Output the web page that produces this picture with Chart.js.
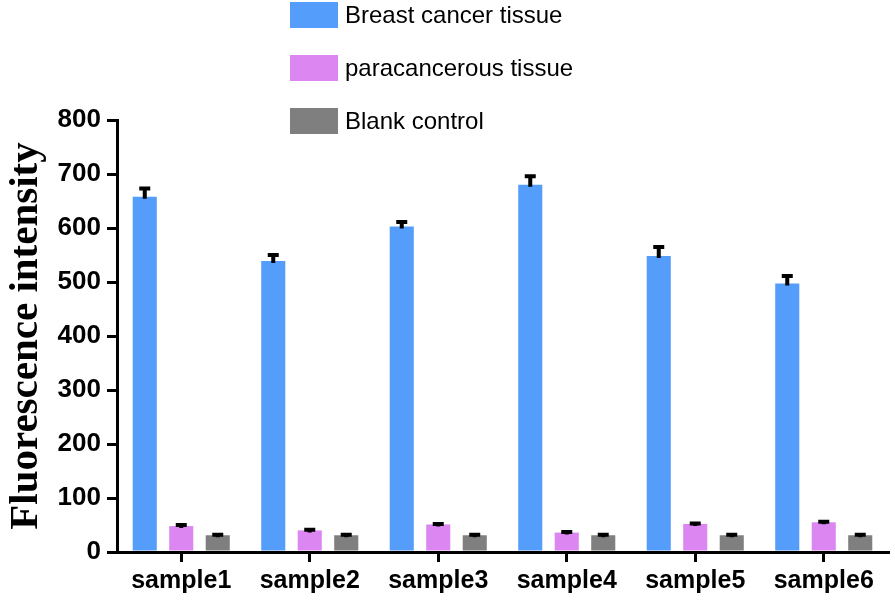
<!DOCTYPE html>
<html>
<head>
<meta charset="utf-8">
<script src="https://cdn.jsdelivr.net/npm/chart.js@4"></script>
<style>
  html,body{margin:0;padding:0;background:#fff;}
  #wrap{position:relative;width:895px;height:600px;}
  #legend{position:absolute;left:290px;top:2px;font-family:"Liberation Sans",Arial,sans-serif;font-size:24px;color:#000;}
  #legend .item{display:flex;align-items:center;height:26px;margin-bottom:27px;}
  #legend .box{width:48px;height:26px;margin-right:7px;}
</style>
</head>
<body>
<div id="wrap">
  <canvas id="c" width="895" height="600"></canvas>
  <div id="legend"></div>
</div>
<script>
const samples = ['sample1','sample2','sample3','sample4','sample5','sample6'];
const cancer = [658, 539, 603, 680, 548, 497];
const cancerErr = [15, 11, 8, 16, 17, 14];
const para = [48, 40, 51, 36, 52, 55];
const paraErr = [2, 1, 1, 1, 1, 1];
const blank = [31, 31, 31, 31, 31, 31];
const blankErr = [1, 1, 1, 1, 1, 1];
const yTicks = [0,100,200,300,400,500,600,700,800];

const colors = ['#559DFA','#DC86F2','#7F7F7F'];

// error bars on top of each bar, upward only
const errorBars = {
  id:'errorBars',
  afterDatasetsDraw(chart){
    const ctx = chart.ctx, y = chart.scales.y;
    ctx.save();
    ctx.strokeStyle = '#000';
    ctx.lineWidth = 4;
    chart.data.datasets.forEach((ds,i)=>{
      const meta = chart.getDatasetMeta(i);
      meta.data.forEach((bar,j)=>{
        const top = y.getPixelForValue(ds.data[j] + ds.err[j]);
        const base = y.getPixelForValue(ds.data[j]);
        ctx.beginPath();
        ctx.moveTo(bar.x, base + 2);
        ctx.lineTo(bar.x, top);
        ctx.moveTo(bar.x - 5.5, top);
        ctx.lineTo(bar.x + 5.5, top);
        ctx.stroke();
      });
    });
    ctx.restore();
  }
};

const chart = new Chart(document.getElementById('c'), {
  type:'bar',
  data:{
    labels:samples,
    datasets:[
      {label:'Breast cancer tissue', data:cancer, err:cancerErr, backgroundColor:colors[0]},
      {label:'paracancerous tissue', data:para, err:paraErr, backgroundColor:colors[1]},
      {label:'Blank control', data:blank, err:blankErr, backgroundColor:colors[2]}
    ]
  },
  options:{
    responsive:false,
    animation:false,
    layout:{padding:{top:120,right:7,left:2,bottom:0}},
    datasets:{bar:{categoryPercentage:0.852, barPercentage:0.66}},
    plugins:{legend:{display:false}, tooltip:{enabled:false}},
    scales:{
      x:{
        grid:{offset:false, drawOnChartArea:false, drawTicks:true, tickLength:10, color:'#000', lineWidth:3},
        border:{color:'#000', width:3},
        ticks:{color:'#000', padding:4, font:{family:'"Liberation Sans", Arial, sans-serif', size:25, weight:'bold'}},
        afterFit: s => { s.height = 48; }
      },
      y:{
        min:0, max:800,
        afterBuildTicks: s => { s.ticks = yTicks.map(v=>({value:v})); },
        grid:{drawOnChartArea:false, drawTicks:true, tickLength:10, color:'#000', lineWidth:3},
        border:{color:'#000', width:3},
        ticks:{color:'#000', padding:6, font:{family:'"Liberation Sans", Arial, sans-serif', size:26, weight:'bold'}},
        title:{display:true, text:'Fluorescence intensity', color:'#000', padding:{top:0,bottom:0},
          font:{family:'"Liberation Serif", "Times New Roman", serif', size:41, weight:'bold'}},
        afterFit: s => { s.width = 115; }
      }
    }
  },
  plugins:[errorBars]
});

document.getElementById('legend').innerHTML = chart.data.datasets.map(d=>
  `<div class="item"><span class="box" style="background:${d.backgroundColor}"></span>${d.label}</div>`).join('');
</script>
</body>
</html>
